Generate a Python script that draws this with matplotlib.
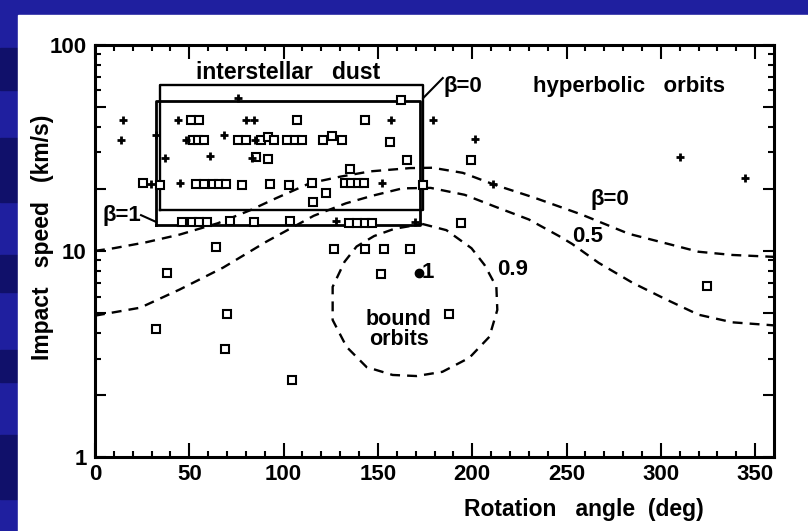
import matplotlib
matplotlib.use("Agg")
import matplotlib.pyplot as plt
from matplotlib.patches import Rectangle
from matplotlib.ticker import NullFormatter

# open squares: rotation angle (deg), impact speed (km/s)
sq_angle = [162.5,
            50.7, 55.1, 107.1, 143.0,
            52.0, 54.7, 57.9, 76.0, 80.0, 88.2, 91.7, 94.9, 101.8, 105.9, 110.0, 121.0, 125.8, 130.8, 156.6,
            85.1, 91.7, 165.2, 199.4,
            135.4,
            25.3, 34.4, 53.8, 57.7, 62.6, 65.8, 69.2, 78.2, 92.6, 102.7, 115.1, 132.3, 135.9, 139.4, 142.4, 173.8,
            122.7, 115.6,
            45.9, 51.2, 55.1, 59.4, 71.5, 84.2, 103.6, 134.6, 138.8, 142.9, 146.8, 194.1,
            64.4, 126.7, 143.3, 153.0, 167.1,
            38.0, 151.4, 324.3, 70.0, 187.9, 32.1, 68.8, 104.5]
sq_speed = [54.1,
            43.2, 43.2, 42.9, 42.9,
            34.3, 34.3, 34.3, 34.3, 34.3, 34.3, 35.6, 34.3, 34.3, 34.3, 34.3, 34.3, 35.9, 34.3, 33.7,
            28.5, 27.9, 27.7, 27.7,
            24.9,
            21.3, 20.9, 21.1, 21.1, 21.1, 21.1, 21.1, 20.9, 21.1, 20.9, 21.3, 21.3, 21.3, 21.3, 21.3, 20.9,
            19.0, 17.2,
            13.8, 13.8, 13.8, 13.8, 13.9, 13.8, 13.9, 13.7, 13.7, 13.7, 13.7, 13.7,
            10.4, 10.2, 10.2, 10.2, 10.2,
            7.83, 7.71, 6.79, 4.93, 4.93, 4.17, 3.33, 2.37]

# crosses
pl_angle = [75.9, 15.0, 43.8, 80.3, 84.3, 156.7, 179.1, 13.6, 48.5, 84.7, 32.3, 68.4,
            201.7, 37.1, 61.2, 83.0, 310.2, 29.6, 45.0, 152.2, 211.0, 344.4, 128.0, 169.9]
pl_speed = [55.1, 43.2, 43.2, 43.2, 43.2, 42.9, 42.9, 34.3, 34.3, 34.3, 36.6, 36.6,
            34.9, 28.2, 28.9, 28.2, 28.5, 21.1, 21.3, 21.3, 21.0, 22.5, 13.9, 13.8]

# single filled point
dot_angle = [171.6]
dot_speed = [7.85]

# boundary curves for beta = 0 and 0.5
b0_angle = [0, 10, 27, 45, 65, 82, 96, 114, 130, 146, 167, 179, 195, 212, 233, 258, 283, 304, 320, 338, 360]
b0_speed = [10.0, 10.3, 11.0, 12.0, 13.6, 15.7, 18.0, 21.3, 22.9, 24.3, 25.2, 25.3, 23.9, 20.9, 18.1,
            15.0, 12.1, 10.8, 9.9, 9.55, 9.35]
b05_angle = [0, 24, 45, 68, 91, 102, 116, 133, 147, 163, 178, 196, 212, 230, 246, 253, 267, 285, 303,
             320, 338, 360]
b05_speed = [4.85, 5.3, 6.5, 8.3, 11.1, 12.6, 14.8, 17.0, 18.5, 20.1, 20.2, 18.7, 16.4, 14.2, 11.8,
             10.8, 8.75, 7.0, 5.8, 4.9, 4.5, 4.35]

# closed beta = 0.9 contour (bound orbits)
b09_angle = [173.6, 186.3, 199.6, 206.5, 212.8, 213.3, 209.1, 198.5, 184.2, 170.5, 157.8, 144.0,
             133.4, 126.0, 126.0, 132.3, 138.7, 148.0, 158.8, 173.6]
b09_speed = [13.5, 12.6, 10.3, 8.55, 6.69, 5.17, 3.83, 3.03, 2.59, 2.47, 2.50, 2.73,
             3.42, 4.62, 6.69, 8.85, 10.5, 11.8, 12.8, 13.5]

# interstellar dust boxes: (angle min, angle max, speed min, speed max)
box_beta0 = [34.5, 174.0, 15.8, 64.0]
box_beta1 = [32.5, 172.5, 13.4, 53.1]

x_ticks = [0, 50, 100, 150, 200, 250, 300, 350]
y_ticks = [1, 2, 5, 10, 20, 50, 100]
y_tick_labels = ['1', '', '', '10', '', '', '100']
y_minor = [3, 4, 6, 7, 8, 9, 30, 40, 60, 70, 80, 90]


def draw_box(ax, b, lw):
    x0, x1, y0, y1 = b
    ax.plot([x0, x1, x1, x0, x0], [y0, y0, y1, y1, y0], color='black', lw=lw, zorder=3)


def impact_plot():
    plt.rcParams['font.family'] = ['Liberation Sans', 'DejaVu Sans']
    plt.rcParams['font.weight'] = 'bold'
    plt.rcParams['axes.labelweight'] = 'bold'

    fig = plt.figure(figsize=(8.08, 5.31), dpi=100)
    fig.patch.set_facecolor('#1f1f9f')
    for y0, h in [(0.83, 0.08), (0.62, 0.12), (0.45, 0.07), (0.28, 0.06), (0.06, 0.12)]:
        fig.add_artist(Rectangle((0, y0), 18 / 808, h, transform=fig.transFigure,
                                 color='#10106a', zorder=-2))
    fig.add_artist(Rectangle((18 / 808, 0), 1, 1 - 15 / 531, transform=fig.transFigure,
                             color='white', zorder=-1))

    ax = fig.add_axes([95 / 808, 74 / 531, 679 / 808, 412.3 / 531])
    ax.set_yscale('log')
    ax.set_xlim(0, 360)
    ax.set_ylim(1, 100)

    dash = (0, (4.2, 3.0))
    ax.plot(b0_angle, b0_speed, color='black', lw=1.7, linestyle=dash, zorder=2)
    ax.plot(b05_angle, b05_speed, color='black', lw=1.7, linestyle=dash, zorder=2)
    ax.plot(b09_angle, b09_speed, color='black', lw=1.7, linestyle=dash, zorder=2)

    draw_box(ax, box_beta0, 1.7)
    draw_box(ax, box_beta1, 2.0)

    ax.plot(sq_angle, sq_speed, 's', mfc='white', mec='black', ms=6.3, mew=1.5, zorder=4)
    ax.plot(pl_angle, pl_speed, '+', color='black', ms=6, mew=2.0, zorder=4)
    ax.plot(dot_angle, dot_speed, 'o', color='black', ms=6, zorder=4)

    # leader lines to the two boxes
    ax.plot([184.4, 174.0], [68.9, 55.1], color='black', lw=1.5)
    ax.plot([24.4, 32.5], [14.9, 13.8], color='black', lw=1.5)

    fs = 16
    ax.text(102.2, 73.5, 'interstellar   dust', ha='center', va='center', fontsize=16.5)
    ax.text(194.8, 62.8, 'β=0', ha='center', va='center', fontsize=fs)
    ax.text(283.2, 62.8, 'hyperbolic   orbits', ha='center', va='center', fontsize=fs)
    ax.text(14.0, 14.9, 'β=1', ha='center', va='center', fontsize=fs)
    ax.text(273.2, 17.7, 'β=0', ha='center', va='center', fontsize=fs)
    ax.text(261.0, 11.7, '0.5', ha='center', va='center', fontsize=fs)
    ax.text(221.3, 8.1, '0.9', ha='center', va='center', fontsize=fs)
    ax.text(176.5, 7.85, '1', ha='center', va='center', fontsize=fs)
    ax.text(161.0, 4.14, 'bound\norbits', ha='center', va='center', fontsize=15.5,
            linespacing=0.95)

    ax.set_xticks(x_ticks)
    ax.set_xticks(range(0, 351, 10), minor=True)
    ax.set_yticks(y_ticks, labels=y_tick_labels)
    ax.set_yticks(y_minor, minor=True)
    ax.yaxis.set_minor_formatter(NullFormatter())

    ax.tick_params(which='both', direction='in', top=True, right=True, width=1.5,
                   labelsize=16, colors='black')
    ax.tick_params(axis='x', which='major', length=10, pad=5)
    ax.tick_params(axis='y', which='major', length=8, pad=6)
    ax.tick_params(which='minor', length=4.5)
    for s in ax.spines.values():
        s.set_linewidth(2.2)

    ax.set_xlabel('Rotation   angle  (deg)', fontsize=16.5, va='center')
    ax.xaxis.set_label_coords(0.72, -0.1285)
    ax.set_ylabel('Impact   speed   (km/s)', fontsize=16.5, va='center')
    ax.yaxis.set_label_coords(-0.078, 0.534)

    fig.savefig('out.png', dpi=100, facecolor=fig.get_facecolor())


if __name__ == "__main__":
    impact_plot()
